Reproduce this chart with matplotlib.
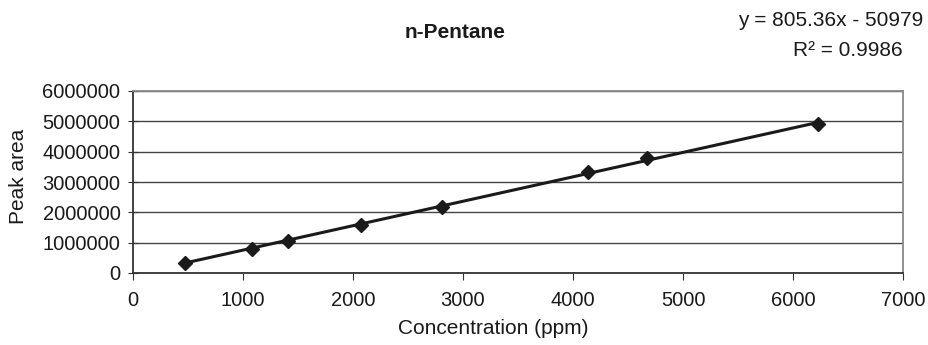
import matplotlib
matplotlib.use("Agg")
import matplotlib.pyplot as plt
import numpy as np

plt.rcParams['font.family'] = ['Liberation Sans', 'DejaVu Sans']

concentration = [473, 1085, 1412, 2073, 2806, 4139, 4670, 6224]
peak_area = [340000, 791000, 1055000, 1582000, 2165000, 3340000, 3780000, 4901000]
slope = 805.36
intercept = -50979
r_squared = 0.9986
x_ticks = [0, 1000, 2000, 3000, 4000, 5000, 6000, 7000]
y_ticks = [0, 1000000, 2000000, 3000000, 4000000, 5000000, 6000000]

TXT = '#1a1a1a'
fig = plt.figure(figsize=(9.29, 3.45), dpi=100)
ax = fig.add_axes([133/929, 1-273/345, 770/929, 182/345])

xs = np.array([min(concentration), max(concentration)])
ax.plot(xs, slope*xs + intercept, color='#1a1a1a', lw=2.2, zorder=3)
ax.plot(concentration, peak_area, linestyle='none', marker='D', ms=7,
        color='#1a1a1a', zorder=4)

ax.set_xlim(0, 7000)
ax.set_ylim(0, 6000000)
ax.set_xticks(x_ticks)
ax.set_yticks(y_ticks)
ax.set_xticklabels([str(v) for v in x_ticks])
ax.set_yticklabels([str(v) for v in y_ticks])
ax.yaxis.grid(True, color='#444444', lw=1)
ax.set_axisbelow(True)
for s in ['top', 'right']:
    ax.spines[s].set_color('#888888')
    ax.spines[s].set_linewidth(1.3)
for s in ['left', 'bottom']:
    ax.spines[s].set_color('#333333')
    ax.spines[s].set_linewidth(1.3)
ax.tick_params(axis='both', color='#333333', labelsize=14.5, labelcolor=TXT)
ax.tick_params(axis='x', direction='out', length=5, pad=8)
ax.tick_params(axis='y', direction='inout', length=7, pad=5.5)

fig.text(493/929, 1-329/345, 'Concentration (ppm)', ha='center', va='center',
         fontsize=15, color=TXT)
fig.text(19/929, 1-176/345, 'Peak area', ha='center', va='center',
         rotation=90, fontsize=15, color=TXT)

fig.text(455/929, 1-32/345, 'n-Pentane', ha='center', va='center',
         fontsize=15, fontweight='bold', color=TXT)
fig.text(923/929, 1-21/345, f'y = {slope}x - {abs(intercept)}', ha='right',
         va='center', fontsize=15, color=TXT)
fig.text(903/929, 1-51/345, f'R\u00b2 = {r_squared}', ha='right',
         va='center', fontsize=15, color=TXT)

fig.savefig('out.png', dpi=100)
